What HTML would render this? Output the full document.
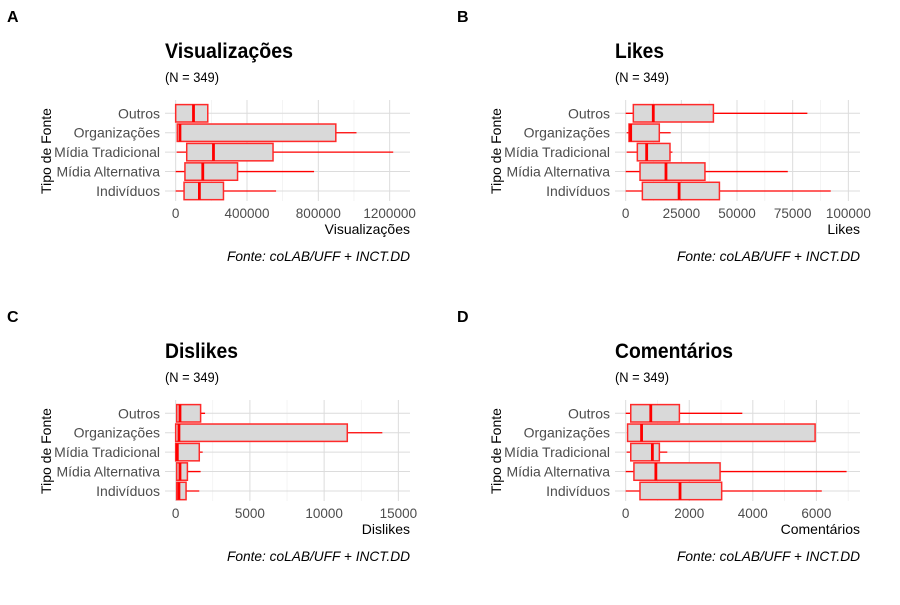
<!DOCTYPE html>
<html><head><meta charset="utf-8"><style>
body{margin:0;background:#fff}
svg{font-family:"Liberation Sans",sans-serif}
</style></head><body>
<svg id="c" width="900" height="600" viewBox="0 0 900 600"></svg>
<script>
const categories=["Outros","Organizações","Mídia Tradicional","Mídia Alternativa","Indivíduos"];
// panel A: Visualizações
const viewsLo=[0,9000,5600,0,0];
const viewsQ1=[0,9000,62000,52000,47000];
const viewsMed=[100000,24000,212000,152000,133000];
const viewsQ3=[180000,898000,546000,347000,268000];
const viewsHi=[180000,1014000,1220000,776000,563000];
const viewsTicks=[0,400000,800000,1200000];
// panel B: Likes
const likesLo=[0,450,450,0,0];
const likesQ1=[3440,1500,5240,6440,7500];
const likesMed=[12400,2250,9430,18100,24000];
const likesQ3=[39400,15100,19900,35600,42100];
const likesHi=[81600,20200,21000,72800,92100];
const likesTicks=[0,25000,50000,75000,100000];
// panel C: Dislikes
const dislikesLo=[70,0,0,70,70];
const dislikesQ1=[70,0,0,70,70];
const dislikesMed=[290,220,110,290,220];
const dislikesQ3=[1680,11560,1590,790,700];
const dislikesHi=[1980,13920,1820,1680,1590];
const dislikesTicks=[0,5000,10000,15000];
// panel D: Comentários
const comLo=[0,60,30,0,0];
const comQ1=[160,60,160,260,450];
const comMed=[790,500,840,950,1710];
const comQ3=[1690,5960,1060,2970,3020];
const comHi=[3670,5960,1310,6950,6170];
const comTicks=[0,2000,4000,6000];

const NS="http://www.w3.org/2000/svg";
const svg=document.getElementById('c');
function el(tag,attrs,parent,text){const e=document.createElementNS(NS,tag);for(const k in attrs)e.setAttribute(k,attrs[k]);if(text!==undefined)e.textContent=text;(parent||svg).appendChild(e);return e;}

function panel(letter,title,titleW,axisTitle,ox,oy,lo,q1,med,q3,hi,ticks,pxPerUnit,minorMax){
  const g=el('g',{transform:`translate(${ox},${oy})`});
  
  
  const x0=175.67;
  const xs=v=>x0+v*pxPerUnit;
  const rowY=i=>113.3+i*19.42;
  let t=el('text',{x:7,y:22,'font-size':16,'font-weight':'bold'},g,letter);
  
  t=el('text',{x:165,y:58,'font-size':21,'font-weight':'bold',textLength:titleW,lengthAdjust:'spacingAndGlyphs'},g,title);
  
  t=el('text',{x:165,y:82,'font-size':14,textLength:54,lengthAdjust:'spacingAndGlyphs'},g,'(N = 349)');
  
  const step=ticks[1]-ticks[0];
  for(let v=step/2;v<=minorMax;v+=step){const l=el('line',{x1:xs(v),x2:xs(v),y1:100,y2:201,stroke:'#ececec','stroke-width':0.6},g);}
  ticks.forEach(v=>{const l=el('line',{x1:xs(v),x2:xs(v),y1:100,y2:201,stroke:'#dcdcdc','stroke-width':1},g);
    const tl=el('text',{x:xs(v),y:218,'font-size':13.5,'text-anchor':'middle',fill:'#4d4d4d'},g,String(v));});
  categories.forEach((c,i)=>{const l=el('line',{x1:165,x2:410,y1:rowY(i),y2:rowY(i),stroke:'#dcdcdc','stroke-width':1},g);
    const tl=el('text',{x:160,y:rowY(i)+5,'font-size':14,'text-anchor':'end',fill:'#4d4d4d'},g,c);});
  t=el('text',{transform:'translate(51,151) rotate(-90)','font-size':14,'text-anchor':'middle'},g,'Tipo de Fonte');
  
  t=el('text',{x:410,y:234,'font-size':14,'text-anchor':'end'},g,axisTitle);
  
  t=el('text',{x:410,y:261,'font-size':14,'font-style':'italic','text-anchor':'end',textLength:183,lengthAdjust:'spacingAndGlyphs'},g,'Fonte: coLAB/UFF + INCT.DD');
  
  categories.forEach((c,i)=>{
    const y=rowY(i);
    const w=el('line',{x1:xs(lo[i]),x2:xs(hi[i]),y1:y,y2:y,stroke:'#ff0000','stroke-width':1.3},g);
    
    const b=el('rect',{x:xs(q1[i]),y:y-8.7,width:Math.max(xs(q3[i])-xs(q1[i]),0.5),height:17.4,fill:'#d9d9d9',stroke:'#ff2a2a','stroke-width':1.5},g);
    
    const m=el('line',{x1:xs(med[i]),x2:xs(med[i]),y1:y-8.7,y2:y+8.7,stroke:'#ff0000','stroke-width':2.8},g);
    
  });
}
panel('A','Visualizações',128,'Visualizações',0,0,viewsLo,viewsQ1,viewsMed,viewsQ3,viewsHi,viewsTicks,71.33/400000,1300000);
panel('B','Likes',49,'Likes',450,0,likesLo,likesQ1,likesMed,likesQ3,likesHi,likesTicks,55.67/25000,110000);
panel('C','Dislikes',73,'Dislikes',0,300,dislikesLo,dislikesQ1,dislikesMed,dislikesQ3,dislikesHi,dislikesTicks,74.23/5000,16000);
panel('D','Comentários',118,'Comentários',450,300,comLo,comQ1,comMed,comQ3,comHi,comTicks,63.57/2000,7200);
</script>
</body></html>
